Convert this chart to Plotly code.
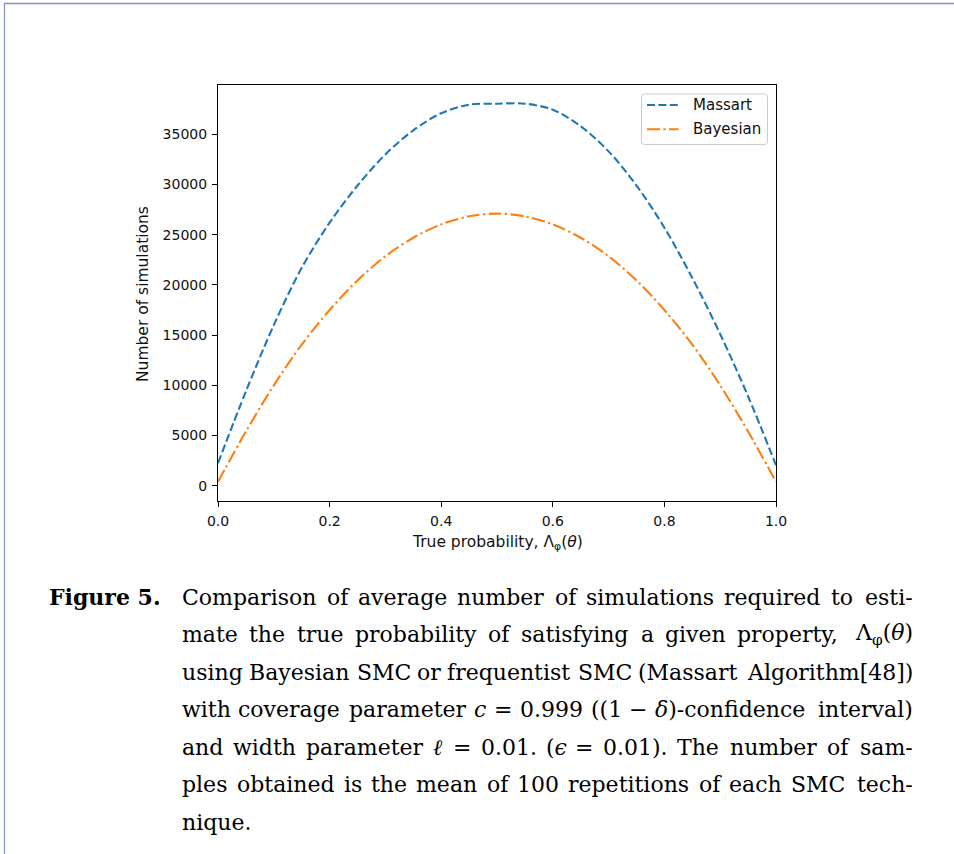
import re
import plotly.graph_objects as go

# ---- data -------------------------------------------------------------
prob = [0.0, 0.05, 0.1, 0.15, 0.2, 0.25, 0.3, 0.35, 0.4, 0.45, 0.5,
        0.55, 0.6, 0.65, 0.7, 0.75, 0.8, 0.85, 0.9, 0.95, 1.0]
massart = [2250, 9400, 16000, 21700, 26200, 29900, 33000, 35400, 37100,
           37950, 38050, 38050, 37450, 35800, 33300, 29900, 25700, 20700,
           15100, 8900, 2050]
bayesian = [400, 5400, 10000, 14050, 17500, 20450, 22850, 24700, 26030,
            26830, 27100, 26830, 26030, 24700, 22850, 20450, 17500, 14050,
            10000, 5400, 400]

x_ticks = [0.0, 0.2, 0.4, 0.6, 0.8, 1.0]
x_tick_text = ["0.0", "0.2", "0.4", "0.6", "0.8", "1.0"]
y_ticks = [0, 5000, 10000, 15000, 20000, 25000, 30000, 35000]
y_tick_text = [str(v) for v in y_ticks]

series_names = ["Massart", "Bayesian"]
series_colors = ["#1f77b4", "#ff7f0e"]
series_dashes = ["8px,3.4px", "13px,3.4px,2.2px,3.4px"]

caption_label = "<b>Figure 5.</b>"
caption_lines = [
    "Comparison of average number of simulations required to esti-",
    "mate the true probability of satisfying a given property, Λ<sub>φ</sub>(<i>θ</i>)",
    "using Bayesian SMC or frequentist SMC (Massart Algorithm[48])",
    "with coverage parameter <i>c</i> = 0.999 ((1 − <i>δ</i>)-confidence interval)",
    "and width parameter <i>ℓ</i> = 0.01. (<i>ϵ</i> = 0.01). The number of sam-",
    "ples obtained is the mean of 100 repetitions of each SMC tech-",
    "nique.",
]

# ---- page geometry (pixels) --------------------------------------------
W, H = 954, 854
PL, PR, PT, PB = 218, 776, 85, 501


def px(x):
    return (x - PL) / (PR - PL)


def py(y):
    return (PB - y) / (PB - PT)


SANS = "DejaVu Sans"
SERIF = "DejaVu Serif"
INK = "#111111"

fig = go.Figure()
fig.add_trace(go.Scatter(
    x=prob, y=massart, name=series_names[0], mode="lines", showlegend=False,
    line=dict(color=series_colors[0], width=2.1, dash=series_dashes[0],
              shape="spline", smoothing=0.9),
))
fig.add_trace(go.Scatter(
    x=prob, y=bayesian, name=series_names[1], mode="lines", showlegend=False,
    line=dict(color=series_colors[1], width=2.1, dash=series_dashes[1],
              shape="spline", smoothing=0.9),
))

axis_common = dict(
    showgrid=False, zeroline=False, showline=True, mirror=True,
    linecolor="black", linewidth=1.1, ticks="outside", ticklen=5,
    tickwidth=1.1, tickcolor="black",
    tickfont=dict(family=SANS, size=14, color=INK),
)
fig.update_xaxes(range=[0, 1], tickvals=x_ticks, ticktext=x_tick_text,
                 ticklabelstandoff=2, **axis_common)
fig.update_yaxes(range=[-1520, 39910], tickvals=y_ticks, ticktext=y_tick_text,
                 ticklabelstandoff=2, **axis_common)

annotations = [
    dict(text="Number of simulations", x=px(143), y=py(294), xref="paper",
         yref="paper", textangle=-90, showarrow=False,
         xanchor="center", yanchor="middle",
         font=dict(family=SANS, size=15.5, color=INK)),
    dict(text="True probability, Λ<sub>φ</sub>(<i>θ</i>)", x=px(497),
         y=py(543), xref="paper", yref="paper", showarrow=False,
         xanchor="center", yanchor="middle",
         font=dict(family=SANS, size=15.5, color=INK)),
]

shapes = []

# ---- legend box drawn by hand ----------------------------------------------
LX0, LX1, LY0, LY1, R = 641.5, 767.5, 94, 144.5, 3
legend_path = (
    f"M {px(LX0 + R)},{py(LY0)} L {px(LX1 - R)},{py(LY0)} "
    f"Q {px(LX1)},{py(LY0)} {px(LX1)},{py(LY0 + R)} "
    f"L {px(LX1)},{py(LY1 - R)} Q {px(LX1)},{py(LY1)} {px(LX1 - R)},{py(LY1)} "
    f"L {px(LX0 + R)},{py(LY1)} Q {px(LX0)},{py(LY1)} {px(LX0)},{py(LY1 - R)} "
    f"L {px(LX0)},{py(LY0 + R)} Q {px(LX0)},{py(LY0)} {px(LX0 + R)},{py(LY0)} Z"
)
shapes.append(dict(type="path", xref="paper", yref="paper", path=legend_path,
                   fillcolor="rgba(255,255,255,0.8)",
                   line=dict(color="#cccccc", width=1)))
for i, name in enumerate(series_names):
    row_y = 105 + 24.3 * i
    shapes.append(dict(type="line", xref="paper", yref="paper",
                       x0=px(647), x1=px(678.5), y0=py(row_y), y1=py(row_y),
                       line=dict(color=series_colors[i], width=2.1,
                                 dash=series_dashes[i])))
    annotations.append(dict(text=name, x=px(690.5), y=py(row_y),
                            xref="paper", yref="paper", showarrow=False,
                            xanchor="left", yanchor="middle",
                            font=dict(family=SANS, size=15, color=INK)))

# ---- justified caption ---------------------------------------------------
EM = {
    'a': .602, 'b': .646, 'c': .566, 'd': .646, 'e': .598, 'f': .374,
    'g': .646, 'h': .650, 'i': .324, 'j': .314, 'k': .606, 'l': .324,
    'm': .958, 'n': .650, 'o': .608, 'p': .646, 'q': .646, 'r': .483,
    's': .518, 't': .406, 'u': .650, 'v': .571, 'w': .841, 'x': .571,
    'y': .571, 'z': .530, 'A': .760, 'B': .740, 'C': .760, 'M': 1.000,
    'S': .720, 'T': .720, 'F': .700, '.': .318, ',': .318, '(': .390,
    ')': .390, '[': .390, ']': .390, '-': .338, '=': .838, '−': .838,
    'Λ': .74, 'φ': .72, 'θ': .62, 'δ': .62, 'ℓ': .46, 'ϵ': .52,
}


def word_width(html, size):
    total = 0.0
    for sub in re.findall(r"<sub>(.*?)</sub>", html):
        total += 0.7 * sum(EM.get(ch, .636) for ch in sub)
    plain = re.sub(r"<sub>.*?</sub>", "", html)
    plain = re.sub(r"<[^>]+>", "", plain)
    total += sum(EM.get(ch, .636) for ch in plain)
    return total * size


CAP_SIZE = 22
CAP_LEFT, CAP_RIGHT = 183, 912
PAD = 3
LINE0, LEAD = 597, 37.5

annotations.append(dict(
    text=caption_label, x=px(50 - PAD), y=py(LINE0), xref="paper",
    yref="paper", showarrow=False, xanchor="left", yanchor="middle",
    font=dict(family=SERIF, size=CAP_SIZE, color="black")))

for k, line in enumerate(caption_lines):
    words = line.split(" ")
    widths = [word_width(w, CAP_SIZE) for w in words]
    last = k == len(caption_lines) - 1
    if last or len(words) == 1:
        gap = 0.318 * CAP_SIZE
    else:
        gap = (CAP_RIGHT - CAP_LEFT - sum(widths)) / (len(words) - 1)
    xpos = CAP_LEFT
    ypos = py(LINE0 + LEAD * k)
    for j, (w, wd) in enumerate(zip(words, widths)):
        end_word = (not last) and j == len(words) - 1 and len(words) > 1
        annotations.append(dict(
            text=w, x=px(CAP_RIGHT + PAD if end_word else xpos - PAD),
            y=ypos, xref="paper", yref="paper", showarrow=False,
            xanchor="right" if end_word else "left", yanchor="middle",
            font=dict(family=SERIF, size=CAP_SIZE, color="black")))
        xpos += wd + gap

# ---- page frame -----------------------------------------------------------
frame = "#8094b4"
shapes += [
    dict(type="line", xref="paper", yref="paper", x0=px(4), x1=px(W),
         y0=py(3.5), y1=py(3.5), line=dict(color=frame, width=1.6)),
    dict(type="line", xref="paper", yref="paper", x0=px(4.5), x1=px(4.5),
         y0=py(3.5), y1=py(H), line=dict(color=frame, width=1.2)),
]

fig.update_layout(
    width=W, height=H, autosize=False,
    margin=dict(l=PL, r=W - PR, t=PT, b=H - PB, pad=0),
    paper_bgcolor="white", plot_bgcolor="white",
    showlegend=False,
    annotations=annotations,
    shapes=shapes,
)

fig.write_html("out.html")
